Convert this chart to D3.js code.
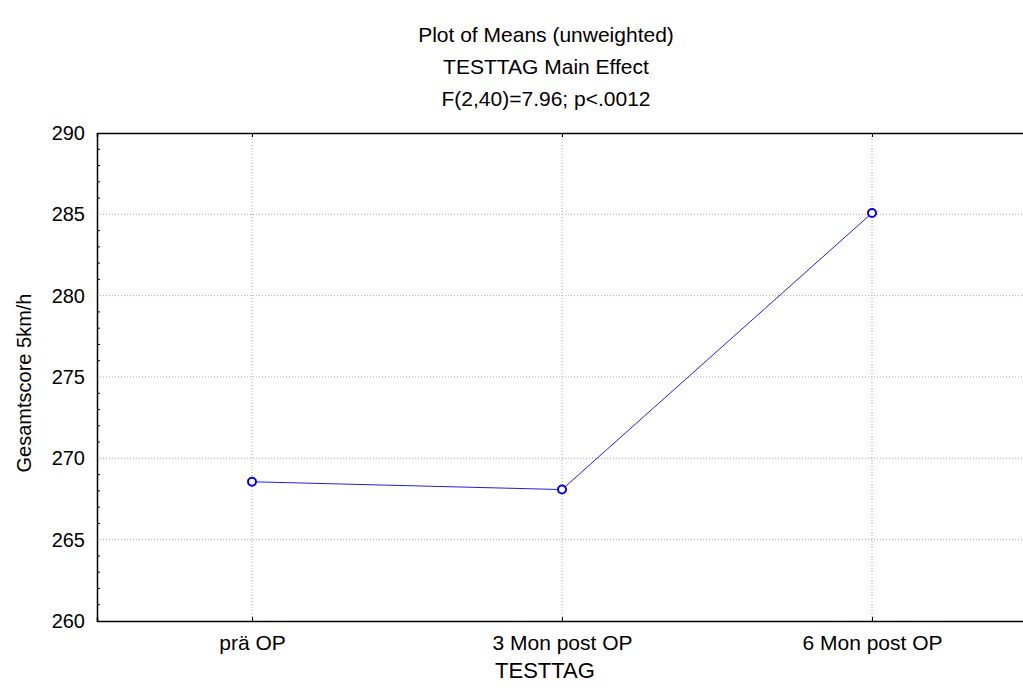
<!DOCTYPE html>
<html>
<head>
<meta charset="utf-8">
<script src="https://cdn.jsdelivr.net/npm/d3@7"></script>
<style>
  body { margin: 0; background: #fff; overflow: hidden; }
  text { font-family: "Liberation Sans", Arial, sans-serif; fill: #000; }
</style>
</head>
<body>
<div id="chart"></div>
<script>
var categories = ["prä OP", "3 Mon post OP", "6 Mon post OP"];
var means = [268.56, 268.08, 285.08];
var yTicks = [260, 265, 270, 275, 280, 285, 290];
var titleLines = ["Plot of Means (unweighted)", "TESTTAG Main Effect", "F(2,40)=7.96; p<.0012"];

var W = 1023, H = 693;
var margin = {top: 133, right: -4, bottom: 72, left: 97},
    width = W - margin.left - margin.right,
    height = H - margin.top - margin.bottom;

var svg = d3.select("#chart")
  .append("svg")
    .attr("width", W)
    .attr("height", H);

var g = svg.append("g")
    .attr("transform", "translate(" + margin.left + "," + margin.top + ")");

var x = d3.scalePoint()
  .domain(categories)
  .range([0, width])
  .padding(0.5);

var y = d3.scaleLinear()
  .domain([260, 290])
  .range([height, 0]);

// dotted grid
g.append("g")
  .selectAll("line")
  .data(yTicks.slice(1, -1))
  .enter()
  .append("line")
    .attr("x1", 0).attr("x2", width)
    .attr("y1", function(d) { return y(d); })
    .attr("y2", function(d) { return y(d); })
    .attr("stroke", "#a8a8a8")
    .attr("stroke-dasharray", "1,2");

g.append("g")
  .selectAll("line")
  .data(categories)
  .enter()
  .append("line")
    .attr("x1", function(d) { return x(d); })
    .attr("x2", function(d) { return x(d); })
    .attr("y1", 0).attr("y2", height)
    .attr("stroke", "#a8a8a8")
    .attr("stroke-dasharray", "1,2");

// left axis with minor ticks inside
var yAxis = g.append("g")
  .call(d3.axisLeft(y).tickValues(yTicks).tickSize(0).tickPadding(12));
yAxis.select(".domain").attr("stroke", "#000").attr("stroke-width", 1.5);
yAxis.selectAll("text").style("font-size", "20px");

g.append("g")
  .selectAll("line")
  .data(d3.range(261, 290).filter(function(v) { return v % 5 !== 0; }))
  .enter()
  .append("line")
    .attr("x1", 0).attr("x2", 3)
    .attr("y1", function(d) { return y(d); })
    .attr("y2", function(d) { return y(d); })
    .attr("stroke", "#000");

// bottom axis
var xAxis = g.append("g")
  .attr("transform", "translate(0," + height + ")")
  .call(d3.axisBottom(x).tickSize(-4).tickPadding(14));
xAxis.select(".domain").attr("stroke", "#000").attr("stroke-width", 1.5);
xAxis.selectAll("text").style("font-size", "21px");

// top border with ticks
var topAxis = g.append("g")
  .call(d3.axisTop(x).tickSize(-4).tickFormat(""));
topAxis.select(".domain").attr("stroke", "#000").attr("stroke-width", 1.5);

// means line
var line = d3.line()
  .x(function(d, i) { return x(categories[i]); })
  .y(function(d) { return y(d); });

g.append("path")
  .datum(means)
  .attr("d", line)
  .attr("fill", "none")
  .attr("stroke", "#2020e0")
  .attr("stroke-width", 1);

g.selectAll("circle")
  .data(means)
  .enter()
  .append("circle")
    .attr("cx", function(d, i) { return x(categories[i]); })
    .attr("cy", function(d) { return y(d); })
    .attr("r", 4)
    .attr("fill", "#fff")
    .attr("stroke", "#0000ff")
    .attr("stroke-width", 2);

// titles
svg.append("g")
  .selectAll("text")
  .data(titleLines)
  .enter()
  .append("text")
    .attr("x", 546)
    .attr("y", function(d, i) { return 42 + i * 32; })
    .attr("text-anchor", "middle")
    .style("font-size", "21px")
    .text(function(d) { return d; });

svg.append("text")
  .attr("x", 545)
  .attr("y", 678)
  .attr("text-anchor", "middle")
  .style("font-size", "22px")
  .text("TESTTAG");

svg.append("text")
  .attr("transform", "translate(31,383) rotate(-90)")
  .attr("text-anchor", "middle")
  .style("font-size", "20px")
  .text("Gesamtscore 5km/h");
</script>
</body>
</html>
